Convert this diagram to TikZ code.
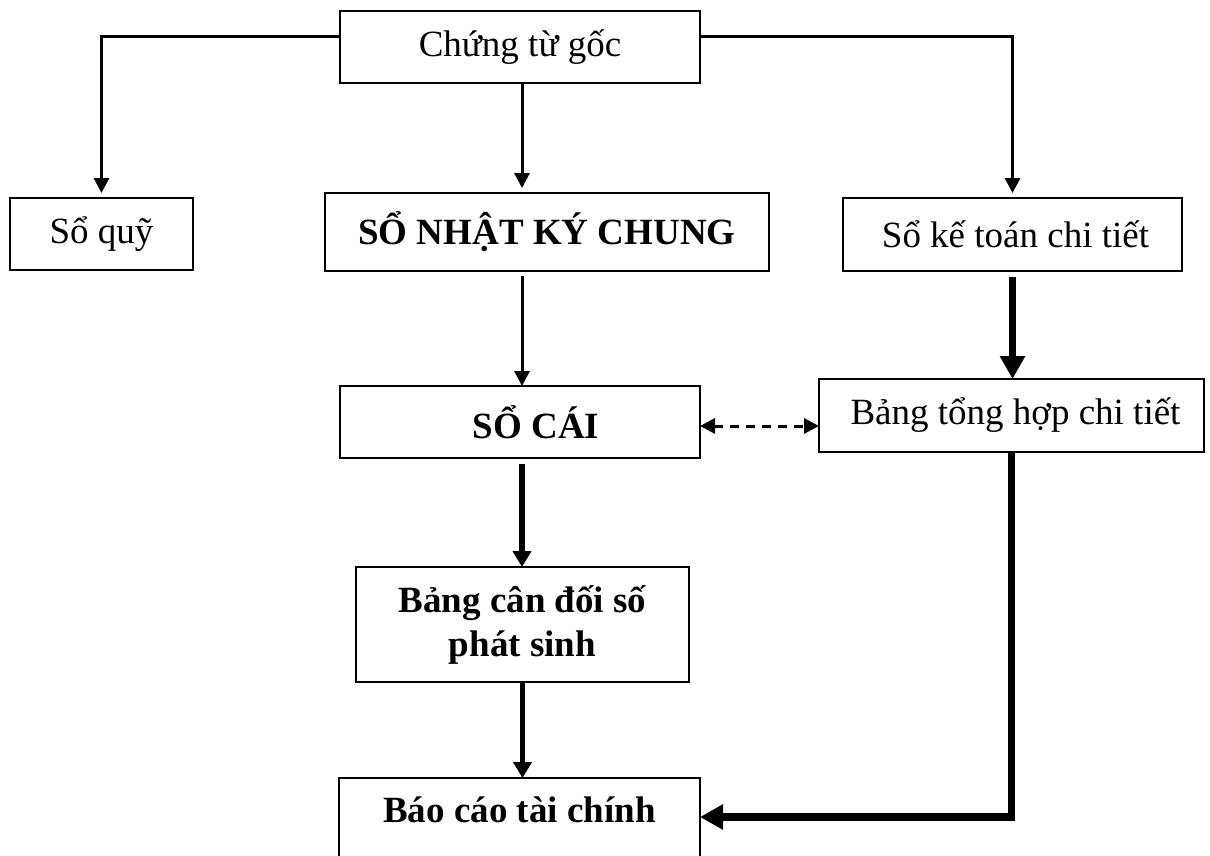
\documentclass[tikz,border=0pt]{standalone}
\usepackage{fontspec}
\setmainfont{Liberation Serif}
\usetikzlibrary{arrows.meta}
\begin{document}
\begin{tikzpicture}[x=1pt,y=-1pt,
  box/.style={draw, line width=1.7pt, inner sep=0pt, outer sep=0pt, align=center, font=\fontsize{37}{44}\selectfont},
  bbox/.style={box, font=\fontsize{37}{44}\selectfont\bfseries},
  arrthin/.style={line width=3pt, -{Triangle[length=15pt,width=15pt]}},
  arrmid/.style={line width=5.5pt, -{Triangle[length=16pt,width=18pt]}},
  arrheavy/.style={line width=7.5pt, -{Triangle[length=23pt,width=24pt]}},
  dasharr/.style={line width=3pt, dash pattern=on 9pt off 7pt, {Triangle[length=15pt,width=15pt]}-{Triangle[length=15pt,width=15pt]}}]
\useasboundingbox (0,0) rectangle (1210,855);
\clip (0,0) rectangle (1210,855);
% boxes
\node[box, minimum width=360pt, minimum height=72pt] (goc) at (520,47) {Chứng từ gốc};
\node[box, minimum width=183pt, minimum height=72pt] (quy) at (101.5,234) {Sổ quỹ};
\node[bbox, minimum width=444pt, minimum height=78pt] (nkc) at (547,232) {SỔ NHẬT KÝ CHUNG};
\node[box, minimum width=339pt, minimum height=73pt] (sktct) at (1012.5,234.5) {\hspace*{6pt}Sổ kế toán chi tiết};
\node[bbox, minimum width=360pt, minimum height=72pt] (socai) at (520,422) {\hspace*{32pt}SỔ CÁI};
\node[box, minimum width=385pt, minimum height=73pt] (bthct) at (1011.5,415.5) {\hspace*{8pt}Bảng tổng hợp chi tiết};
\node[bbox, minimum width=333pt, minimum height=115pt] (bcd) at (522.5,624.5) {Bảng cân đối số\\phát sinh};
\node[draw, line width=1.7pt, inner sep=0pt, outer sep=0pt, font=\fontsize{37}{44}\selectfont\bfseries,
      minimum width=361pt, text height=44pt, text depth=48pt, anchor=north] (bctc) at (519.5,778) {Báo cáo tài chính};
% connectors
\draw[arrthin, shorten >=5pt] ([yshift=11pt]goc.west) -| (quy.north);
\draw[arrthin, shorten >=5pt] ([yshift=11pt]goc.east) -| (sktct.north);
\draw[arrthin, shorten >=5pt] ([xshift=2pt]goc.south) -- ([xshift=2pt]goc.south |- nkc.north);
\draw[arrthin, shorten <=5pt] ([xshift=2pt]socai.north |- nkc.south) -- ([xshift=2pt]socai.north);
\draw[arrmid, shorten <=6pt] ([xshift=2pt]socai.south) -- ([xshift=2pt]socai.south |- bcd.north);
\draw[arrmid] (bcd.south) -- (bcd.south |- bctc.north);
\draw[arrheavy, shorten <=6pt] (sktct.south) -- (sktct.south |- bthct.north);
\draw[arrheavy] (bthct.south) |- ([yshift=7pt]bctc.east);
\draw[dasharr] ([yshift=-4pt]socai.east) -- ([yshift=-4pt]socai.east -| bthct.west);
\end{tikzpicture}
\end{document}
